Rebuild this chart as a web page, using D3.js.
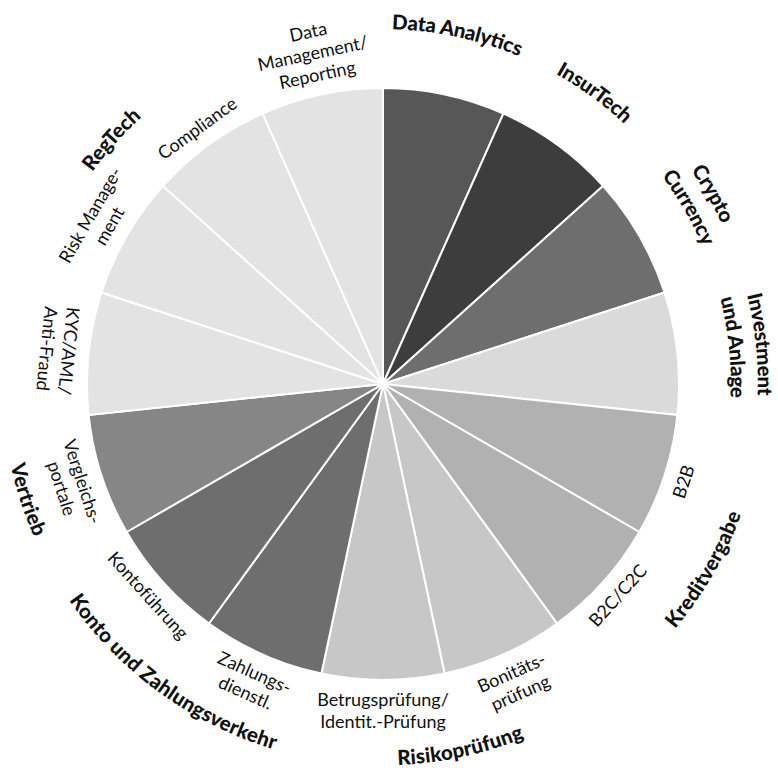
<!DOCTYPE html>
<html>
<head>
<meta charset="utf-8">
<script src="https://cdn.jsdelivr.net/npm/d3@7"></script>
<style>
  body { margin: 0; background: #fff; }
  #chart { width: 778px; height: 772px; }
  svg text { font-family: Lato, "Open Sans", sans-serif; fill: #111; }
  .sub { font-size: 18px; font-weight: 400; }
  .bold { font-size: 20.5px; font-weight: 900; }
</style>
</head>
<body>
<div id="chart"></div>
<script>
// segments, clockwise from 12 o'clock
const segments = ["Data Analytics", "InsurTech", "Crypto Currency", "Investment und Anlage",
  "B2B", "B2C/C2C", "Bonitätsprüfung", "Betrugsprüfung/Identit.-Prüfung",
  "Zahlungsdienstl.", "Kontoführung", "Vergleichsportale",
  "KYC/AML/Anti-Fraud", "Risk Management", "Compliance", "Data Management/Reporting"];
const labelLines = [["Data Analytics"], ["InsurTech"], ["Crypto", "Currency"], ["Investment", "und Anlage"],
  ["B2B"], ["B2C/C2C"], ["Bonitäts-", "prüfung"], ["Betrugsprüfung/", "Identit.-Prüfung"],
  ["Zahlungs-", "dienstl."], ["Kontoführung"], ["Vergleichs-", "portale"],
  ["KYC/AML/", "Anti-Fraud"], ["Risk Manage-", "ment"], ["Compliance"], ["Data", "Management/", "Reporting"]];
const groups = [null, null, null, null,
  "Kreditvergabe", "Kreditvergabe", "Risikoprüfung", "Risikoprüfung",
  "Konto und Zahlungsverkehr", "Konto und Zahlungsverkehr", "Vertrieb",
  "RegTech", "RegTech", "RegTech", "RegTech"];
const shares = [1, 1, 1, 1, 1, 1, 1, 1, 1, 1, 1, 1, 1, 1, 1];
const shades = ["#575757", "#3d3d3d", "#6e6e6e", "#dadada",
  "#b1b1b1", "#b1b1b1", "#c7c7c7", "#c7c7c7",
  "#6e6e6e", "#6e6e6e", "#868686",
  "#e3e3e3", "#e3e3e3", "#e3e3e3", "#e3e3e3"];

const width = 778, height = 772;
const cx = 383, cy = 384, radius = 296;

const data = segments.map((name, i) => ({name, lines: labelLines[i], group: groups[i], share: shares[i]}));

const svg = d3.select("#chart").append("svg")
    .attr("width", width)
    .attr("height", height);

const g = svg.append("g")
    .attr("transform", "translate(" + cx + "," + cy + ")");

const color = d3.scaleOrdinal(segments, shades);
const pie = d3.pie().sort(null).value(d => d.share);
const arc = d3.arc().innerRadius(0).outerRadius(radius);
const arcs = pie(data);

// slices
g.append("g")
  .selectAll("path")
  .data(arcs)
  .enter()
  .append("path")
    .attr("d", arc)
    .attr("fill", d => color(d.data.name))
    .attr("stroke", "#fff")
    .attr("stroke-width", 2);

// text on the lower side is flipped so it stays readable
const flipped = a => a > Math.PI / 2 && a < Math.PI * 1.6;
const deg = a => a * 180 / Math.PI;

function guide(r, mid) {
  const span = Math.PI * 0.45, p = d3.path();
  if (flipped(mid)) p.arc(0, 0, r, mid + span - Math.PI / 2, mid - span - Math.PI / 2, true);
  else p.arc(0, 0, r, mid - span - Math.PI / 2, mid + span - Math.PI / 2, false);
  return p.toString();
}

const defs = svg.append("defs");
let pathId = 0;
function curvedText(text, r, mid, cls) {
  const id = "guide" + (pathId++);
  defs.append("path").attr("id", id).attr("d", guide(r, mid))
      .attr("transform", "translate(" + cx + "," + cy + ")");
  svg.append("text")
      .attr("class", cls)
      .attr("dy", "0.35em")
    .append("textPath")
      .attr("href", "#" + id)
      .attr("startOffset", "50%")
      .attr("text-anchor", "middle")
      .text(text);
}

// sub labels (straight, rotated) and own bold labels
arcs.forEach(d => {
  const mid = (d.startAngle + d.endAngle) / 2;
  const n = d.data.lines.length;
  const flip = flipped(mid);
  if (d.data.group) {
    d.data.lines.forEach((line, k) => {
      const r = 316 + (flip ? k : n - 1 - k) * 22;
      g.append("text")
        .attr("class", "sub")
        .attr("text-anchor", "middle")
        .attr("dy", "0.35em")
        .attr("transform", "rotate(" + deg(mid) + ") translate(0," + (-r) + ") rotate(" + (flip ? 180 : 0) + ")")
        .text(line);
    });
  } else {
    const base = n > 1 ? 355 : 362;
    d.data.lines.forEach((line, k) => {
      const r = base + (flip ? k : n - 1 - k) * 27;
      curvedText(line, r, mid, "bold");
    });
  }
});

// group labels
const groupNames = Array.from(new Set(groups.filter(x => x)));
groupNames.forEach(name => {
  const members = arcs.filter(d => d.data.group === name);
  const mid = (d3.min(members, d => d.startAngle) + d3.max(members, d => d.endAngle)) / 2;
  curvedText(name, flipped(mid) ? 374 : 367, mid, "bold");
});
</script>
</body>
</html>
